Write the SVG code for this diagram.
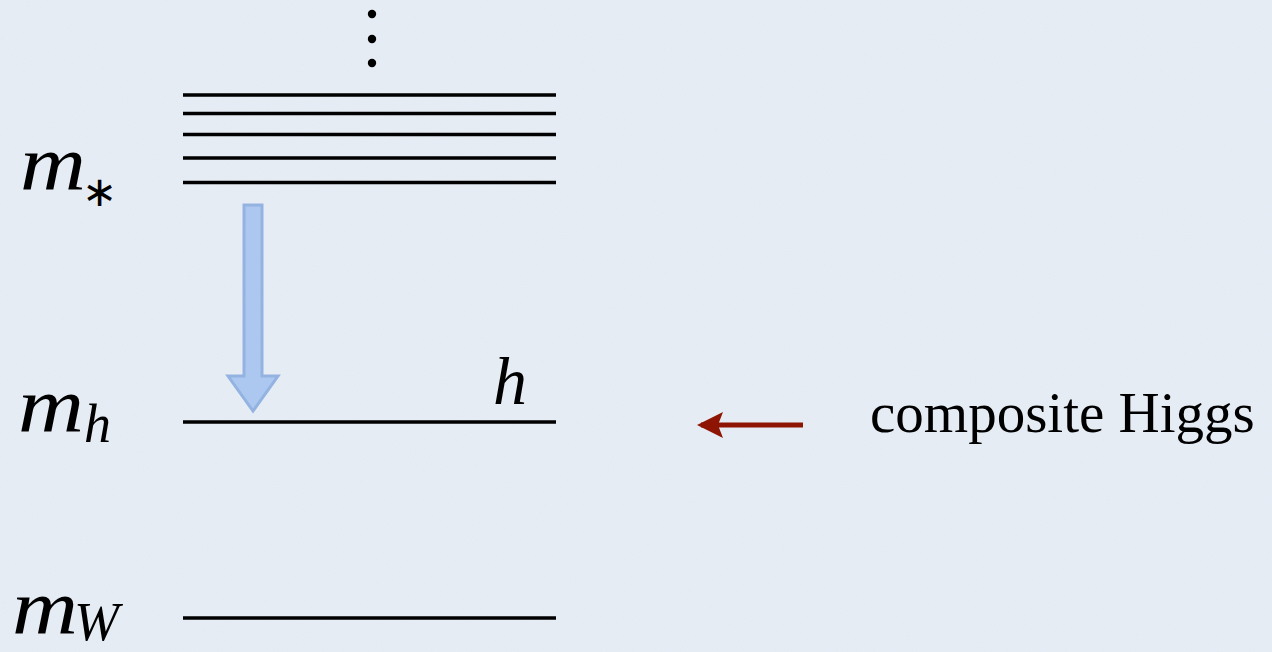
<svg xmlns="http://www.w3.org/2000/svg" width="1272" height="652" viewBox="0 0 1272 652">
<defs>
<style>
.lvl{stroke:#000;stroke-width:3.5;fill:none}
.math{font-family:"Liberation Serif","Times New Roman",serif;font-style:italic;fill:#000}
.sub{font-family:"Liberation Serif","Times New Roman",serif;font-style:italic;fill:#000;font-size:54px}
.txt{font-family:"Liberation Serif","Times New Roman",serif;fill:#000}
</style>
<filter id="paper" x="0" y="0" width="100%" height="100%">
<feTurbulence type="fractalNoise" baseFrequency="0.9" numOctaves="2" seed="3" result="n"/>
<feColorMatrix in="n" type="matrix" values="0 0 0 0 1  0 0 0 0 1  0 0 0 0 1  0 0 0 0.18 0"/>
</filter>
<marker id="redhead" viewBox="0 0 26 26" refX="22" refY="13" markerWidth="26" markerHeight="26" markerUnits="userSpaceOnUse" orient="auto">
<path d="M0,0 L26,13 L0,26 L5,13 Z" fill="#8e1503"/>
</marker>
</defs>
<rect width="1272" height="652" fill="#e3eaf3"/>
<rect width="1272" height="652" filter="url(#paper)"/>

<g id="dots">
<circle cx="372" cy="14" r="4.2" fill="#000"/>
<circle cx="372" cy="39" r="4.2" fill="#000"/>
<circle cx="372" cy="63" r="4.2" fill="#000"/>
</g>

<g id="level-mstar">
<line class="lvl" x1="183" y1="95" x2="556" y2="95"/>
<line class="lvl" x1="183" y1="113.5" x2="556" y2="113.5"/>
<line class="lvl" x1="183" y1="134.5" x2="556" y2="134.5"/>
<line class="lvl" x1="183" y1="158" x2="556" y2="158"/>
<line class="lvl" x1="183" y1="182.5" x2="556" y2="182.5"/>
<text class="math" x="20" y="190" font-size="78" textLength="66" lengthAdjust="spacingAndGlyphs">m</text>
<text x="82" y="206" font-family="DejaVu Sans, sans-serif" font-size="42" fill="#000">∗</text>
</g>

<g id="level-mh">
<line class="lvl" x1="183" y1="422" x2="556" y2="422"/>
<text class="math" x="18" y="432" font-size="78" textLength="66" lengthAdjust="spacingAndGlyphs">m</text>
<text class="sub" x="84" y="442">h</text>
<text class="math" x="493" y="404" font-size="68">h</text>
</g>

<g id="level-mw">
<line class="lvl" x1="183" y1="618" x2="556" y2="618"/>
<text class="math" x="12" y="634" font-size="78" textLength="66" lengthAdjust="spacingAndGlyphs">m</text>
<text class="sub" x="74" y="640">W</text>
</g>

<g id="label-composite">
<text class="txt" x="870" y="432" font-size="57">composite Higgs</text>
</g>

<g id="connectors">
<path d="M244,205 L262,205 L262,376 L278,376 L253,411 L228,376 L244,376 Z" fill="#a9c7f0" stroke="#8fb0e0" stroke-width="3" stroke-linejoin="miter" opacity="0.95"/>
<line x1="803" y1="425" x2="701" y2="425" stroke="#8e1503" stroke-width="5" marker-end="url(#redhead)"/>
</g>
</svg>
